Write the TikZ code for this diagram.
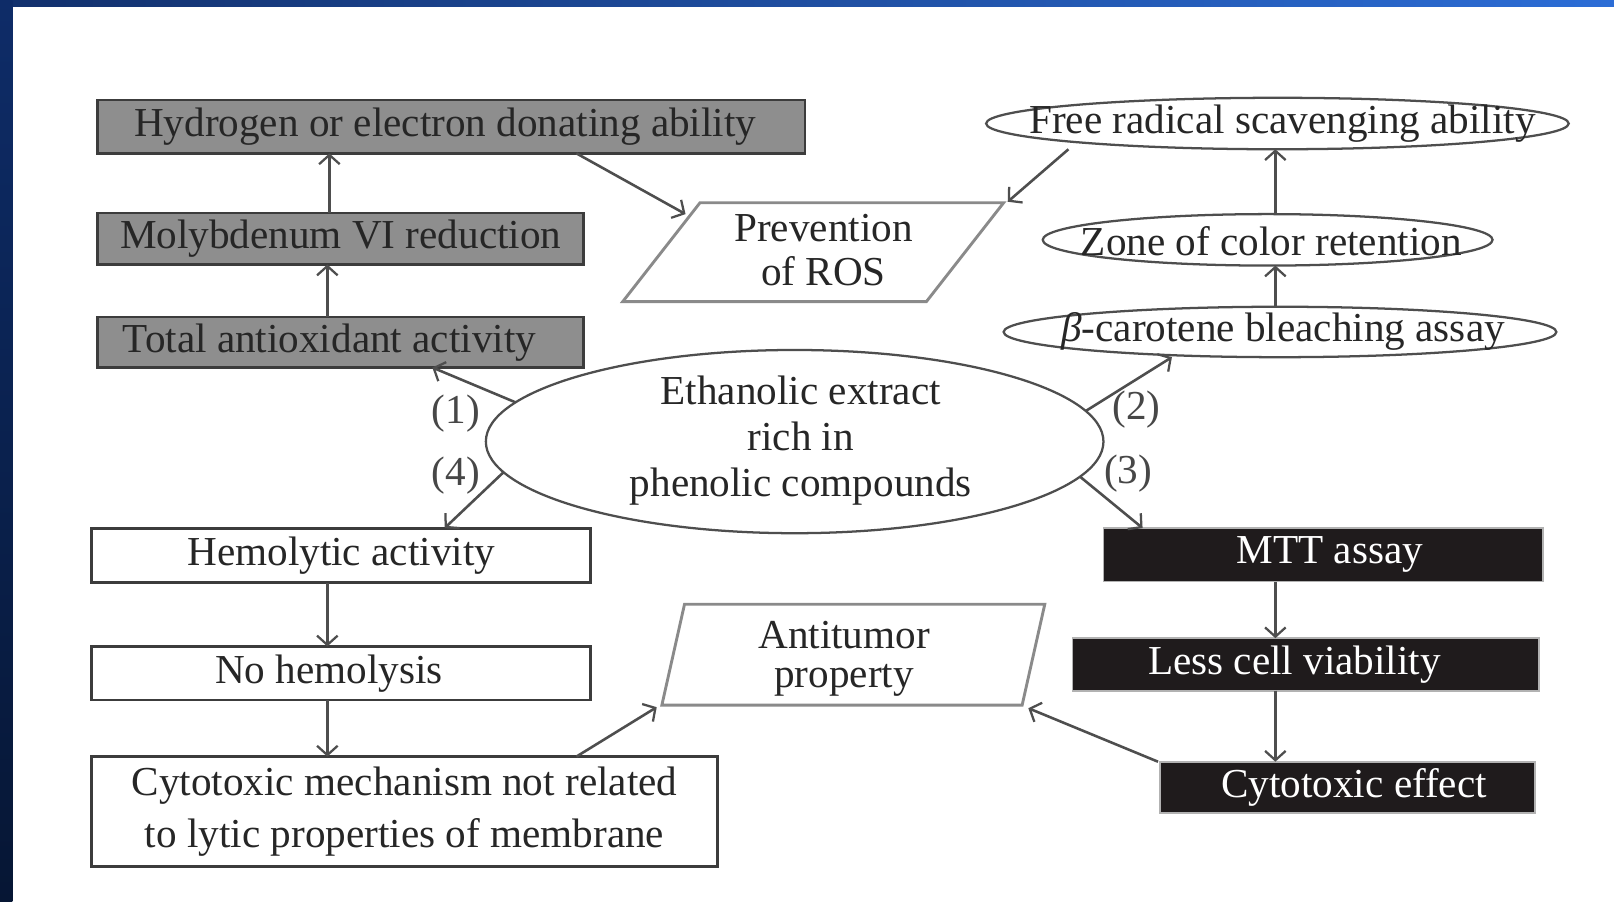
\documentclass[tikz,border=0pt]{standalone}
\usepackage{fontspec}
\setmainfont{Liberation Serif}
\usetikzlibrary{shapes.geometric,arrows.meta}
\definecolor{navyA}{HTML}{12306C}
\definecolor{blueB}{HTML}{2C6DD6}
\definecolor{navyT}{HTML}{0E2C68}
\definecolor{navyC}{HTML}{061634}
\definecolor{boxgray}{HTML}{8E8E8E}
\definecolor{edgegray}{HTML}{3C3C3C}
\definecolor{linegray}{HTML}{4E4E4E}
\definecolor{paragray}{HTML}{8A8A8A}
\definecolor{boxblack}{HTML}{1F1B1C}
\definecolor{txt}{HTML}{262626}
\begin{document}
\begin{tikzpicture}[x=1pt,y=-1pt,
  every node/.style={font=\fontsize{40}{44}\selectfont, text=txt, inner sep=0pt, outer sep=0pt, align=center},
  graybox/.style={draw=edgegray, fill=boxgray, line width=2.6pt},
  whitebox/.style={draw=edgegray, fill=white, line width=2.8pt},
  blackbox/.style={draw=gray!60, fill=boxblack, text=white, line width=1.6pt},
  oval/.style={ellipse, draw=linegray, line width=2.2pt, fill=white},
  paraline/.style={draw=paragray, line width=2.8pt, line join=miter},
  txtonly/.style={},
  lbl/.style={text=txt!85},
  conn/.style={draw=linegray, line width=2.5pt, -{Straight Barb[length=9pt,width=20pt,line width=2.2pt]}}
]
\useasboundingbox (0,0) rectangle (1568,876);
\fill[white] (0,0) rectangle (1568,876);
\shade[left color=navyA, right color=blueB] (0,0) rectangle (1568,6);
\shade[top color=navyT, bottom color=navyC] (0,0) rectangle (12,876);

% left column (gray boxes)
\node[graybox, minimum width=687pt, minimum height=52pt] (hyd) at (438.5,123) {Hydrogen or electron donating ability\hspace*{12pt}};
\node[graybox, minimum width=472pt, minimum height=50pt] (moly) at (331,232) {Molybdenum VI reduction};
\node[graybox, minimum width=472pt, minimum height=49pt] (total) at (331,332.5) {Total antioxidant activity\hspace*{22pt}};

% right column (ovals)
\node[oval, minimum width=566pt, minimum height=50pt] (fr) at (1241,120) {};
\node[txtonly] (frt) at (1246,120) {Free radical scavenging ability};
\node[oval, minimum width=437pt, minimum height=50pt] (zone) at (1231.5,233) {};
\node[txtonly] (zonet) at (1235,234) {Zone of color retention};
\node[oval, minimum width=537pt, minimum height=49pt] (beta) at (1243.5,322.5) {};
\node[txtonly] (betat) at (1246.5,322) {\textit{β}-carotene bleaching assay};

% central ellipse
\node[oval, minimum width=600pt, minimum height=178pt] (cen) at (772,429) {};
\node[txtonly, font=\fontsize{40}{44.5}\selectfont] (cent) at (778,428) {Ethanolic extract\\rich in\\phenolic compounds};

% prevention of ROS parallelogram
\coordinate (pTL) at (680,197);
\coordinate (pTR) at (975,197);
\coordinate (pBR) at (900,293);
\coordinate (pBL) at (605,293);
\draw[paraline] (pTL) -- (pTR) -- (pBR) -- (pBL) -- cycle;
\node[txtonly, font=\fontsize{40}{42}\selectfont] (prev) at (800,243) {Prevention\\of ROS};
\coordinate (prevL) at (666,208);
\coordinate (prevR) at (979,196);

% lower left (white boxes)
\node[whitebox, minimum width=485pt, minimum height=53pt] (hemo) at (331.5,539.5) {Hemolytic activity};
\node[whitebox, minimum width=485pt, minimum height=52pt] (nohemo) at (331.5,654) {No hemolysis\hspace*{24pt}};
\node[whitebox, minimum width=608pt, minimum height=107pt, font=\fontsize{40}{50}\selectfont] (cytomech) at (393,788.5) {Cytotoxic mechanism not related\\to lytic properties of membrane};

% lower right (black boxes)
\node[blackbox, minimum width=427pt, minimum height=52pt] (mtt) at (1285.5,539) {\hspace*{13pt}MTT assay};
\node[blackbox, minimum width=453pt, minimum height=51pt] (less) at (1268.5,645.5) {Less cell viability\hspace*{22pt}};
\node[blackbox, minimum width=364pt, minimum height=50pt] (cytoeff) at (1309,765) {\hspace*{13pt}Cytotoxic effect};

% antitumor parallelogram
\coordinate (aTL) at (665,587);
\coordinate (aTR) at (1015,587);
\coordinate (aBR) at (993,685);
\coordinate (aBL) at (643,685);
\draw[paraline] (aTL) -- (aTR) -- (aBR) -- (aBL) -- cycle;
\node[txtonly, font=\fontsize{40}{38}\selectfont] (anti) at (820,640) {Antitumor\\property};
\coordinate (antiL) at (638,687);
\coordinate (antiR) at (999,688);

% labels
\node[lbl] (l1) at (443,402) {(1)};
\node[lbl] (l4) at (443,462) {(4)};
\node[lbl] (l2) at (1104,398) {(2)};
\node[lbl] (l3) at (1096,460) {(3)};

% connectors
\draw[conn] ([xshift=-11pt]moly.north) -- ([xshift=-118.5pt]hyd.south);
\draw[conn] ([xshift=-13pt]total.north) -- ([xshift=-13pt]moly.south);
\draw[conn] ([xshift=121.5pt]hyd.south) -- (prevL);
\draw[conn] ([xshift=-203pt]fr.south) -- (prevR);
\draw[conn] ([xshift=7.5pt]zone.north) -- ([xshift=-2pt]fr.south);
\draw[conn] ([xshift=-4.5pt]beta.north) -- ([xshift=7.5pt]zone.south);
\draw[conn] (cen.172) -- ([xshift=89pt]total.south);
\draw[conn] (cen.6) -- ([xshift=-105pt]beta.south);
\draw[conn] (cen.-7) -- ([xshift=-175.5pt]mtt.north);
\draw[conn] (cen.-174) -- ([xshift=100.5pt]hemo.north);
\draw[conn] ([xshift=-13.5pt]hemo.south) -- ([xshift=-13.5pt]nohemo.north);
\draw[conn] ([xshift=-13.5pt]nohemo.south) -- ([xshift=-75pt]cytomech.north);
\draw[conn] ([xshift=167pt]cytomech.north) -- (antiL);
\draw[conn] ([xshift=-46.5pt]mtt.south) -- ([xshift=-29.5pt]less.north);
\draw[conn] ([xshift=-29.5pt]less.south) -- ([xshift=-70pt]cytoeff.north);
\draw[conn] ([xshift=-2pt]cytoeff.north west) -- (antiR);
\end{tikzpicture}
\end{document}
